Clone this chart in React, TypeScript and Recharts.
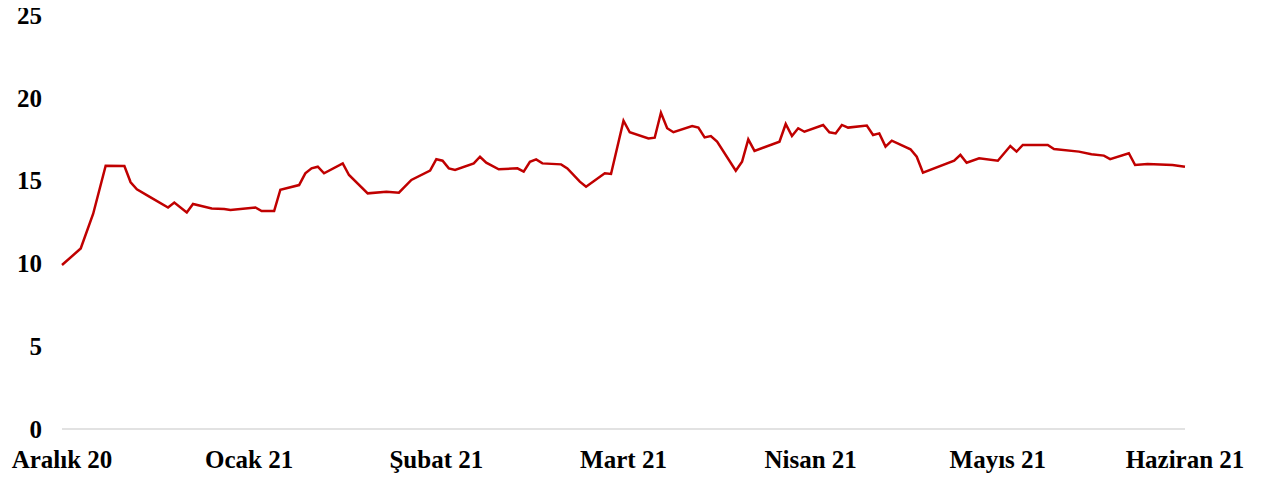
import { LineChart, Line, XAxis, YAxis } from 'recharts'

// day offset from 1 Aralık 2020 (30 days per month step on the axis)
const days = [
  0, 3, 5, 7, 10, 11, 12, 14, 17, 18, 20, 21, 24, 26, 27, 31, 32, 34, 35, 38,
  39, 40, 41, 42, 45, 46, 49, 52, 54, 56, 59, 60, 61, 62, 63, 66, 67, 68, 70, 73,
  74, 75, 76, 77, 80, 81, 83, 84, 87, 88, 90, 91, 94, 95, 96, 97, 98, 101, 102, 103,
  104, 105, 108, 109, 110, 111, 115, 116, 117, 118, 119, 122, 123, 124, 125, 126, 129, 130, 131, 132,
  133, 136, 137, 138, 143, 144, 145, 147, 150, 152, 153, 154, 158, 159, 163, 165, 167, 168, 171, 172,
  174, 178, 180,
]

const values = [
  9.9, 10.9, 13.0, 15.9, 15.88, 14.9, 14.47, 14.03, 13.37, 13.67, 13.08, 13.59, 13.32, 13.29, 13.22, 13.38, 13.16, 13.16, 14.45, 14.73,
  15.44, 15.74, 15.84, 15.44, 16.04, 15.34, 14.23, 14.33, 14.27, 15.04, 15.6, 16.29, 16.2, 15.74, 15.64, 16.04, 16.44, 16.08, 15.68, 15.74,
  15.54, 16.14, 16.28, 16.04, 15.98, 15.74, 14.94, 14.63, 15.44, 15.4, 18.62, 17.92, 17.55, 17.59, 19.1, 18.16, 17.92, 18.3, 18.2, 17.61,
  17.69, 17.35, 15.6, 16.14, 17.49, 16.79, 17.35, 18.42, 17.69, 18.16, 17.95, 18.36, 17.92, 17.85, 18.36, 18.2, 18.32, 17.75, 17.85, 17.05,
  17.41, 16.89, 16.44, 15.48, 16.2, 16.55, 16.08, 16.35, 16.2, 17.09, 16.75, 17.15, 17.15, 16.91, 16.75, 16.59, 16.51, 16.3, 16.65, 15.94,
  16.0, 15.94, 15.84,
]

const monthLabels = ['Aralık 20', 'Ocak 21', 'Şubat 21', 'Mart 21', 'Nisan 21', 'Mayıs 21', 'Haziran 21']
const monthTicks = [0, 30, 60, 90, 120, 150, 180]
const yTicks = [0, 5, 10, 15, 20, 25]

const data = days.map((d, i) => ({ day: d, value: values[i] }))

const font = {
  fontFamily: '"Times New Roman", "Liberation Serif", serif',
  fontSize: 25,
  fontWeight: 'bold',
  fill: '#000000',
}

export default function App() {
  return (
    // negative top margin collapses with the body margin so the "25" label fits
    <div style={{ marginTop: -8 }}>
      <LineChart
        width={1248}
        height={478}
        data={data}
        margin={{ top: 15, right: 71, left: 0, bottom: 9 }}
      >
        <XAxis
          dataKey="day"
          type="number"
          domain={[0, 180]}
          ticks={monthTicks}
          interval={0}
          tickFormatter={(v: number) => monthLabels[Math.round(v / 30)]}
          tick={font}
          tickLine={false}
          tickSize={0}
          tickMargin={21}
          height={40}
          axisLine={{ stroke: '#d9d9d9', strokeWidth: 1.5 }}
        />
        <YAxis
          domain={[0, 25]}
          ticks={yTicks}
          interval={0}
          tick={font}
          tickLine={false}
          tickSize={0}
          tickMargin={20}
          axisLine={false}
          width={54}
        />
        <Line
          type="linear"
          dataKey="value"
          stroke="#c00000"
          strokeWidth={2.5}
          dot={false}
          activeDot={false}
          isAnimationActive={false}
        />
      </LineChart>
    </div>
  )
}
